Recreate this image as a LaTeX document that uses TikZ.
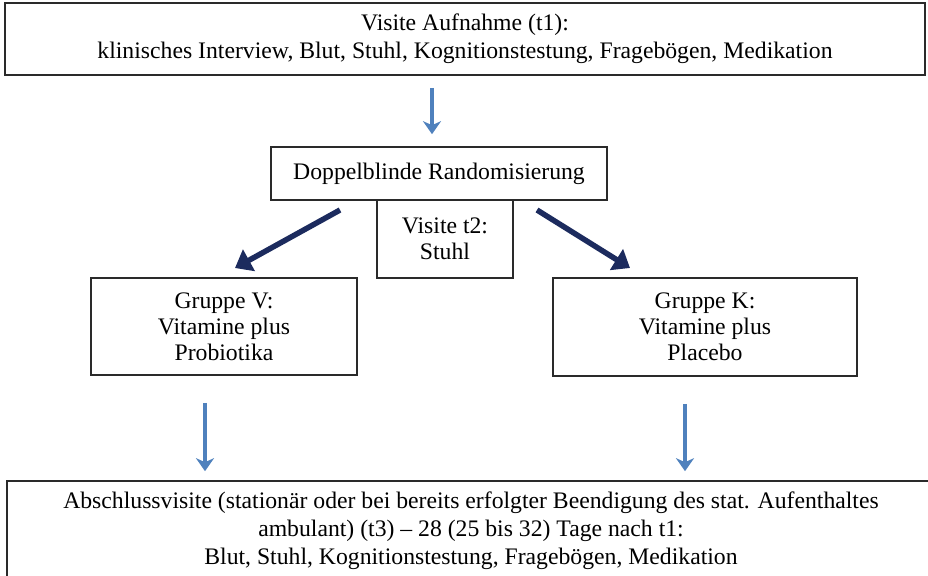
\documentclass[tikz,border=0pt]{standalone}
\usepackage{fontspec}
\setmainfont{Liberation Serif}
\usetikzlibrary{arrows.meta}
\definecolor{boxline}{HTML}{2A2A2A}
\definecolor{lightarrow}{HTML}{4F81BD}
\definecolor{darkarrow}{HTML}{1C2B5E}
\tikzset{
  box/.style={draw=boxline, line width=1.6pt, align=center, inner sep=0pt,
    font=\fontsize{23.7pt}{28pt}\selectfont},
  tightbox/.style={box, font=\fontsize{23.7pt}{26pt}\selectfont},
  bluearrow/.style={draw=lightarrow, line width=3.6pt,
    -{Stealth[length=13pt,width=18pt,inset=4pt]}},
  navyarrow/.style={draw=darkarrow, line width=5.5pt,
    -{Triangle[length=16pt,width=24pt]}}
}
\begin{document}
\begin{tikzpicture}[x=1pt,y=-1pt]
\useasboundingbox (0,0) rectangle (928,575);
\node[box, minimum width=920pt, minimum height=72pt] (top) at (465,39)
  {Visite Aufnahme (t1):\\klinisches Interview, Blut, Stuhl, Kognitionstestung, Fragebögen, Medikation};
\node[box, minimum width=336pt, minimum height=53pt] (rand) at (439,173.5)
  {Doppelblinde Randomisierung};
\node[tightbox, minimum width=136pt, minimum height=78pt] (t2) at (445,239)
  {Visite t2:\\Stuhl};
\node[tightbox, minimum width=266pt, minimum height=97pt] (gv) at (224,326.5)
  {Gruppe V:\\Vitamine plus\\Probiotika};
\node[tightbox, minimum width=304pt, minimum height=98pt] (gk) at (705,327)
  {Gruppe K:\\Vitamine plus\\Placebo};
\node[box, minimum width=928pt, minimum height=100pt] (end) at (471,531)
  {Abschlussvisite (stationär oder bei bereits erfolgter Beendigung des stat. Aufenthaltes\\ambulant) (t3) -- 28 (25 bis 32) Tage nach t1:\\Blut, Stuhl, Kognitionstestung, Fragebögen, Medikation};
\coordinate (a1) at (432,0);
\coordinate (a2) at (205,0);
\coordinate (a3) at (685,0);
\draw[bluearrow, shorten <=12pt, shorten >=12pt] (top.south -| a1) -- (rand.north -| a1);
\draw[bluearrow, shorten <=27pt, shorten >=9pt] (gv.south -| a2) -- (end.north -| a2);
\draw[bluearrow, shorten <=27pt, shorten >=9pt] (gk.south -| a3) -- (end.north -| a3);
\coordinate (l1) at (340,210);
\coordinate (l2) at (235,268);
\coordinate (r1) at (537,210);
\coordinate (r2) at (630,268);
\draw[navyarrow] (l1) -- (l2);
\draw[navyarrow] (r1) -- (r2);
\end{tikzpicture}
\end{document}
